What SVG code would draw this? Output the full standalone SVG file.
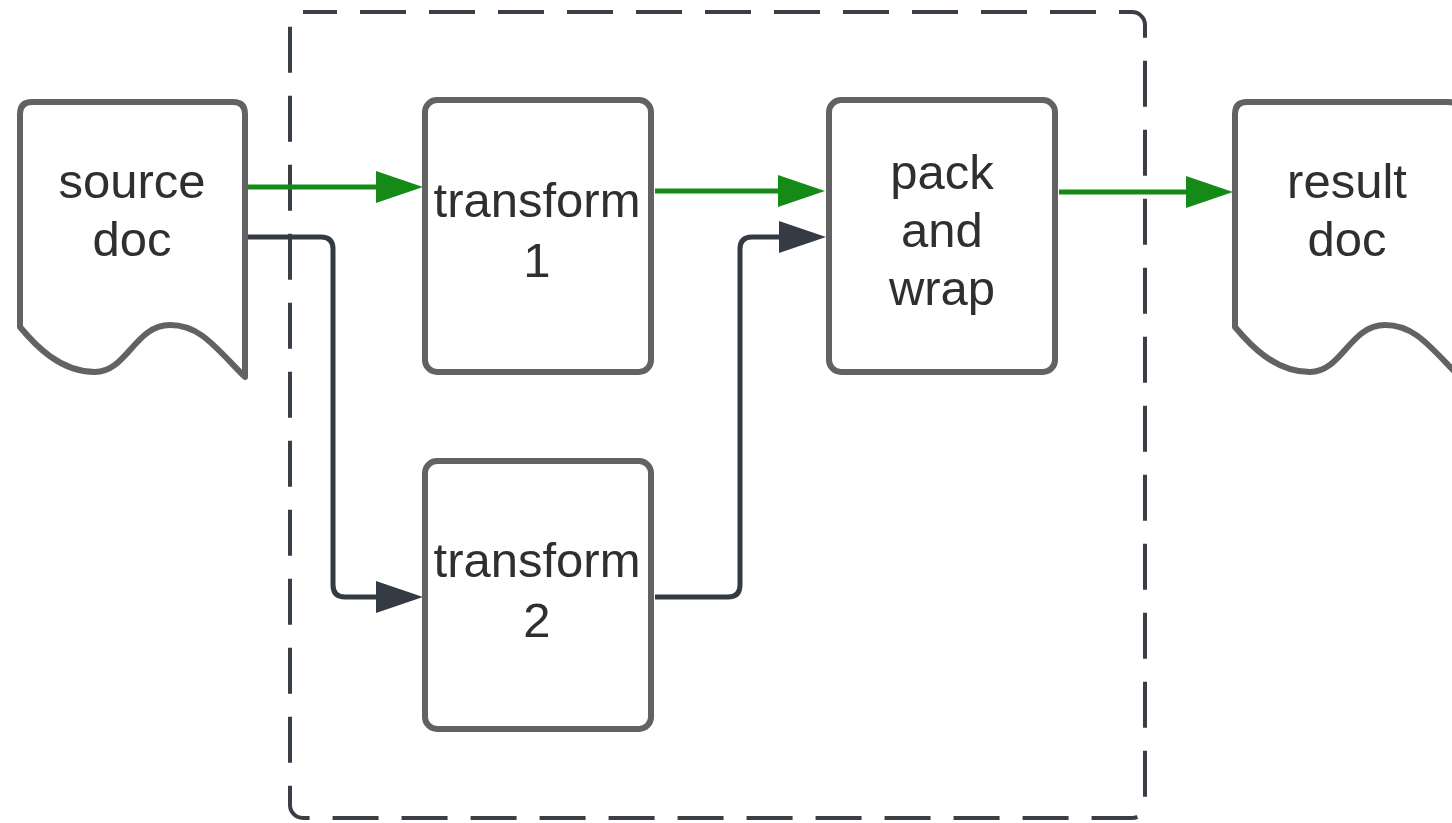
<svg xmlns="http://www.w3.org/2000/svg" width="1452" height="823" viewBox="0 0 1452 823">
  <style>
    .shape { fill: #ffffff; stroke: #626262; stroke-width: 6; stroke-linejoin: round; }
    .label { font-family: "Liberation Sans", Arial, sans-serif; font-size: 49px; fill: #2f2f2f; text-anchor: middle; }
    .group { fill: none; stroke: #3a3e45; stroke-width: 4; stroke-dasharray: 46 23; }
    .flow-green { fill: none; stroke: #168a16; stroke-width: 5; }
    .flow-dark { fill: none; stroke: #353b45; stroke-width: 5; stroke-linejoin: round; }
  </style>
  <defs>
    <marker id="head-green" markerUnits="userSpaceOnUse" markerWidth="50" markerHeight="34" refX="0" refY="16" orient="auto">
      <path d="M0,0 L47,16 L0,32 Z" fill="#168a16"/>
    </marker>
    <marker id="head-dark" markerUnits="userSpaceOnUse" markerWidth="50" markerHeight="34" refX="0" refY="16" orient="auto">
      <path d="M0,0 L47,16 L0,32 Z" fill="#353b45"/>
    </marker>
  </defs>

  <rect width="1452" height="823" fill="#ffffff"/>

  <!-- dashed boundary around the processing steps -->
  <g id="boundary">
    <rect class="group" x="290" y="12" width="855" height="806" rx="13" ry="13" stroke-dashoffset="-57"/>
  </g>

  <!-- connectors -->
  <g id="connectors">
    <path class="flow-green" d="M248,187 L376,187" marker-end="url(#head-green)"/>
    <path class="flow-green" d="M655,191 L778,191" marker-end="url(#head-green)"/>
    <path class="flow-green" d="M1059,192 L1186,192" marker-end="url(#head-green)"/>
    <path class="flow-dark" d="M248,237 L321,237 Q333,237 333,249 L333,585 Q333,597 345,597 L376,597" marker-end="url(#head-dark)"/>
    <path class="flow-dark" d="M655,597 L728,597 Q740,597 740,585 L740,249 Q740,237 752,237 L779,237" marker-end="url(#head-dark)"/>
  </g>

  <g id="source-doc">
    <path class="shape" d="M20,114 Q20,102 32,102 L233,102 Q245,102 245,114 L245,377 C215,347 200,325 170,325 C135,325 127,372 95,372 C60,372 35,345 20,327 Z"/>
    <text class="label" x="132" y="198">source</text>
    <text class="label" x="132" y="256">doc</text>
  </g>

  <g id="transform-1">
    <rect class="shape" x="425" y="100" width="226" height="272" rx="12" ry="12"/>
    <text class="label" x="537" y="217">transform</text>
    <text class="label" x="537" y="277">1</text>
  </g>

  <g id="transform-2">
    <rect class="shape" x="425" y="461" width="226" height="268" rx="12" ry="12"/>
    <text class="label" x="537" y="577">transform</text>
    <text class="label" x="537" y="637">2</text>
  </g>

  <g id="pack-and-wrap">
    <rect class="shape" x="829" y="100" width="226" height="272" rx="12" ry="12"/>
    <text class="label" x="942" y="189">pack</text>
    <text class="label" x="942" y="247">and</text>
    <text class="label" x="942" y="305">wrap</text>
  </g>

  <g id="result-doc">
    <path class="shape" d="M1235,114 Q1235,102 1247,102 L1448,102 Q1460,102 1460,114 L1460,377 C1430,347 1415,325 1385,325 C1350,325 1342,372 1310,372 C1275,372 1250,345 1235,327 Z"/>
    <text class="label" x="1347" y="198">result</text>
    <text class="label" x="1347" y="256">doc</text>
  </g>
</svg>
